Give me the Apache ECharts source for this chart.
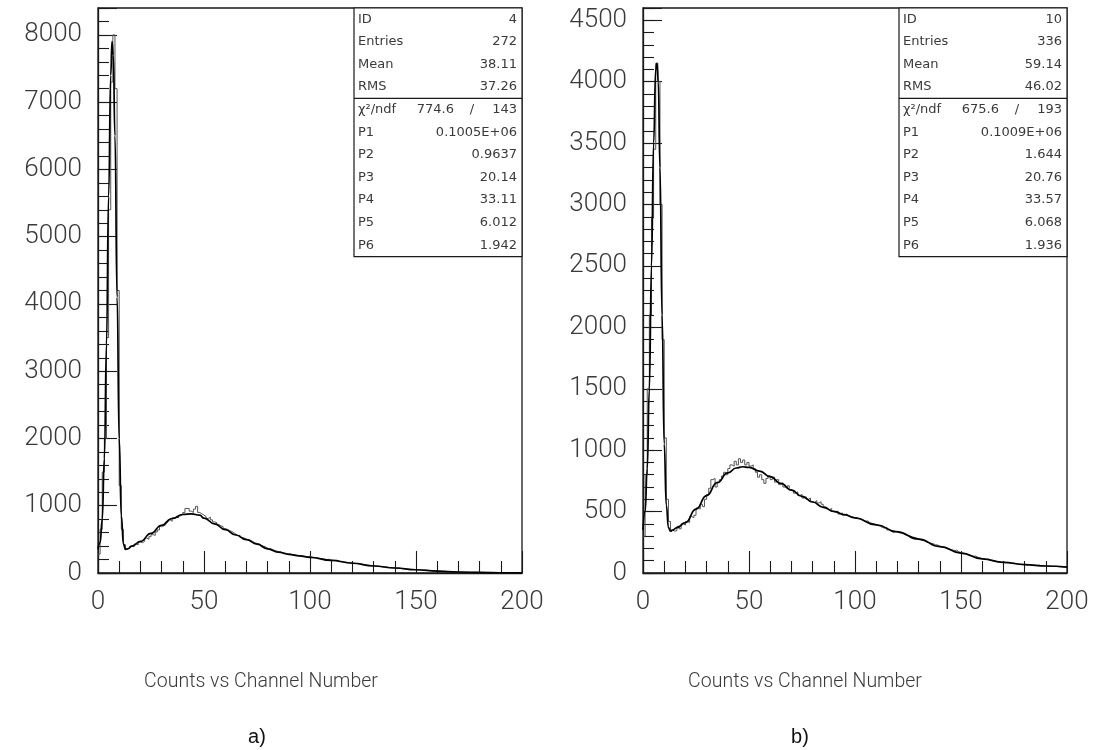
<!DOCTYPE html>
<html><head><meta charset="utf-8">
<script src="https://cdn.jsdelivr.net/npm/echarts@6/dist/echarts.min.js"></script>
<style>html,body{margin:0;padding:0;background:#fff}#c{width:1095px;height:750px}</style>
</head><body><div id="c"></div>
<script>
// ---------- data ----------
const histA = [
 280, 650, 1500, 2000, 3500, 5400, 7300, 8000, 7200, 4200, 1300, 650, 420, 360, 370,
 400, 390, 430, 420, 460, 450, 470, 520, 500, 540, 570, 560, 610, 640, 690, 700, 720, 760, 790, 770, 820, 830, 820, 850, 870, 900, 960, 960, 920, 900, 950, 990, 900, 880, 860, 840,
 810, 830, 790, 760, 750, 720, 700, 690, 660, 650, 630, 620, 600, 580, 555, 560, 530, 520, 505, 490, 485, 470, 450, 440, 430, 410, 400, 390, 370, 360, 355, 340, 330, 320, 312, 305, 300, 290, 285, 280, 272, 268, 262, 258, 255, 250, 245, 240, 250, 235,
 228, 225, 220, 215, 210, 205, 200, 205, 190, 188, 185, 178, 168, 170, 165, 162, 155, 158, 148, 145, 140, 135, 136, 128, 122, 118, 115, 110, 112, 104, 100, 96, 94, 90, 92, 84, 80, 78, 75, 74, 76, 68, 64, 62, 58, 56, 55, 52, 50, 48,
 46, 44, 42, 40, 38, 36, 34, 32, 30, 28, 27, 26, 24, 22, 21, 20, 18, 17, 16, 15, 14, 13, 12, 11, 11, 10, 10, 9, 9, 8, 8, 7, 7, 6, 6, 5, 5, 5, 4, 4, 4, 3, 3, 3, 3, 2, 2, 2, 2
];
const fitAX = [0, 1, 2, 3, 4, 5, 6, 6.6, 7.2, 8, 9, 10, 11, 12, 13, 14, 16, 20, 25, 30, 35, 40, 44, 48, 50, 55, 60, 65, 70, 75, 80, 85, 90, 95, 100, 110, 120, 130, 140, 150, 160, 170, 180, 190, 200];
const fitAY = [350, 450, 800, 1700, 3400, 5600, 7400, 7900, 7700, 6500, 4100, 2000, 850, 430, 350, 360, 400, 470, 590, 710, 810, 870, 880, 860, 815, 730, 645, 565, 495, 428, 360, 310, 278, 255, 233, 188, 145, 104, 74, 48, 28, 15, 8, 4, 2];

const histB = [
 300, 800, 1500, 2100, 2900, 3450, 4150, 4000, 3000, 1900, 1100, 600, 420, 350, 340,
 345, 380, 360, 400, 390, 420, 410, 460, 450, 470, 530, 520, 560, 540, 600, 640, 690, 760, 770, 700, 740, 760, 790, 820, 800, 850, 880, 870, 910, 880, 930, 900, 920, 880, 900, 870,
 880, 850, 820, 780, 800, 760, 730, 770, 790, 760, 780, 740, 760, 720, 735, 700, 690, 710, 680, 670, 650, 660, 630, 640, 610, 620, 600, 610, 580, 575, 590, 570, 580, 560, 540, 530, 515, 525, 500, 495, 505, 480, 490, 470, 480, 465, 455, 460, 445, 450,
 440, 435, 430, 420, 425, 410, 405, 400, 395, 390, 380, 370, 365, 372, 350, 340, 330, 335, 340, 330, 325, 320, 310, 305, 300, 295, 290, 285, 278, 272, 265, 262, 250, 248, 242, 238, 230, 228, 218, 214, 210, 204, 200, 192, 188, 182, 186, 172, 166, 162,
 158, 150, 148, 142, 136, 138, 128, 122, 118, 115, 110, 112, 104, 100, 96, 94, 92, 86, 88, 86, 84, 82, 80, 82, 76, 74, 72, 70, 69, 66, 67, 66, 64, 63, 62, 64, 60, 59, 58, 57, 56, 53, 54, 53, 52, 51, 50, 50, 49
];
const fitBX = [0, 1, 2, 3, 4, 5, 6, 6.6, 7.2, 8, 9, 10, 11, 12, 13, 14, 16, 20, 25, 30, 35, 40, 44, 47, 50, 55, 60, 65, 70, 75, 80, 85, 90, 95, 100, 110, 120, 130, 140, 150, 160, 170, 180, 190, 200];
const fitBY = [350, 500, 850, 1500, 2500, 3500, 4100, 4150, 4000, 3300, 2100, 1050, 550, 370, 340, 350, 370, 410, 520, 630, 735, 815, 855, 865, 860, 830, 785, 730, 675, 624, 578, 535, 502, 475, 448, 392, 335, 275, 215, 162, 115, 86, 68, 57, 48];

const statLabels = ['ID', 'Entries', 'Mean', 'RMS'];
const statValuesA = ['4', '272', '38.11', '37.26'];
const statValuesB = ['10', '336', '59.14', '46.02'];
const chiA = ['774.6', '143'];
const chiB = ['675.6', '193'];
const parLabels = ['P1', 'P2', 'P3', 'P4', 'P5', 'P6'];
const parValuesA = ['0.1005E+06', '0.9637', '20.14', '33.11', '6.012', '1.942'];
const parValuesB = ['0.1009E+06', '1.644', '20.76', '33.57', '6.068', '1.936'];

const xTitle = 'Counts vs Channel Number';
const panelNames = ['a)', 'b)'];
const yMaxA = 8400, yIntA = 1000, yMinorA = 200;
const yMaxB = 4600, yIntB = 500, yMinorB = 100;

// ---------- build ----------
const FONT = 'Roboto, "Liberation Sans", sans-serif';
const TXT = '#3a3a3a';
const LC = '#1a1a1a';
const G = [{left: 98, top: 8, width: 424, height: 565}, {left: 643, top: 8, width: 424, height: 565}];

function stepData(h) {
  const d = h.map((v, i) => [i, v]);
  d.push([h.length, h[h.length - 1]]);
  return d;
}
function xAxis(gi) {
  return {
    gridIndex: gi, type: 'value', min: 0, max: 200, interval: 50,
    axisLine: {show: true, onZero: false, lineStyle: {color: LC, width: 1.3}},
    axisTick: {show: true, inside: true, length: 22, lineStyle: {color: LC, width: 1.1}},
    minorTick: {show: true, splitNumber: 5, length: 12, lineStyle: {color: LC, width: 1.1}},
    splitLine: {show: false},
    axisLabel: {fontSize: 26, color: TXT, margin: 16, fontFamily: FONT, fontWeight: 300}
  };
}
function yAxisMajor(gi, max, iv) {
  return {
    gridIndex: gi, type: 'value', position: 'left', min: 0, max: max, interval: iv,
    axisLine: {show: true, onZero: false, lineStyle: {color: LC, width: 1.3}},
    axisTick: {show: true, inside: true, length: 19, lineStyle: {color: LC, width: 1.1}},
    splitLine: {show: false},
    axisLabel: {fontSize: 26, color: TXT, margin: 16, fontFamily: FONT, fontWeight: 300,
      formatter: v => (v % iv === 0 ? String(v) : '')}
  };
}
function yAxisMinor(gi, max, iv) {
  return {
    gridIndex: gi, type: 'value', position: 'left', offset: 0, min: 0, max: max, interval: iv,
    axisLine: {show: false},
    axisTick: {show: true, inside: true, length: 11, lineStyle: {color: LC, width: 1.1}},
    splitLine: {show: false},
    axisLabel: {show: false}
  };
}
function statBox(x0, y0, w, vals, chi, pars) {
  const rh = 22.6, els = [];
  const yTop = y0, ySep = y0 + rh * 4, yBot = ySep + rh * 7;
  els.push({type: 'rect', shape: {x: x0, y: yTop, width: w, height: yBot - yTop},
    style: {fill: '#fff', stroke: LC, lineWidth: 1.2}, z: 10});
  els.push({type: 'line', shape: {x1: x0, y1: ySep, x2: x0 + w, y2: ySep},
    style: {stroke: LC, lineWidth: 1.2}, z: 11});
  const ts = (t, x, y, align) => ({type: 'text', x: x, y: y, z: 12,
    style: {text: t, fill: '#3a3a3a', font: '13px "DejaVu Sans", sans-serif', textAlign: align, textVerticalAlign: 'middle'}});
  statLabels.forEach((l, i) => {
    const y = yTop + rh * (i + 0.5);
    els.push(ts(l, x0 + 4, y, 'left'));
    els.push(ts(vals[i], x0 + w - 5, y, 'right'));
  });
  const yc = ySep + rh * 0.5;
  els.push(ts('\u03c7\u00b2/ndf', x0 + 4, yc, 'left'));
  els.push(ts(chi[0], x0 + 100, yc, 'right'));
  els.push(ts('/', x0 + 118, yc, 'center'));
  els.push(ts(chi[1], x0 + w - 5, yc, 'right'));
  parLabels.forEach((l, i) => {
    const y = ySep + rh * (i + 1.5);
    els.push(ts(l, x0 + 4, y, 'left'));
    els.push(ts(pars[i], x0 + w - 5, y, 'right'));
  });
  return els;
}
const titleText = (t, x, y) => ({type: 'text', x: x, y: y,
  style: {text: t, fill: TXT, font: '300 19.5px ' + FONT, textAlign: 'center', textVerticalAlign: 'middle'}});
const panelText = (t, x, y) => ({type: 'text', x: x, y: y,
  style: {text: t, fill: '#111', font: '20px "Liberation Sans", sans-serif', textAlign: 'center', textVerticalAlign: 'middle'}});

const histStyle = {color: '#555', width: 1};
const fitStyle = {color: '#000', width: 1.7};
const option = {
  backgroundColor: '#fff',
  animation: false,
  grid: G.map(g => Object.assign({show: true, borderColor: LC, borderWidth: 1.3, backgroundColor: 'transparent'}, g)),
  xAxis: [xAxis(0), xAxis(1)],
  yAxis: [yAxisMajor(0, yMaxA, yIntA), yAxisMajor(1, yMaxB, yIntB), yAxisMinor(0, yMaxA, yMinorA), yAxisMinor(1, yMaxB, yMinorB)],
  series: [
    {type: 'line', xAxisIndex: 0, yAxisIndex: 0, step: 'end', showSymbol: false, data: stepData(histA), lineStyle: histStyle, z: 2},
    {type: 'line', xAxisIndex: 0, yAxisIndex: 0, smooth: true, smoothMonotone: 'x', showSymbol: false,
      data: fitAX.map((x, i) => [x, fitAY[i]]), lineStyle: fitStyle, z: 3},
    {type: 'line', xAxisIndex: 1, yAxisIndex: 1, step: 'end', showSymbol: false, data: stepData(histB), lineStyle: histStyle, z: 2},
    {type: 'line', xAxisIndex: 1, yAxisIndex: 1, smooth: true, smoothMonotone: 'x', showSymbol: false,
      data: fitBX.map((x, i) => [x, fitBY[i]]), lineStyle: fitStyle, z: 3}
  ],
  graphic: [
    ...statBox(354, 8, 168, statValuesA, chiA, parValuesA),
    ...statBox(899, 8, 168, statValuesB, chiB, parValuesB),
    titleText(xTitle, 261, 682),
    titleText(xTitle, 805, 682),
    panelText(panelNames[0], 257, 737),
    panelText(panelNames[1], 800, 737)
  ]
};
const chart = echarts.init(document.getElementById('c'), null, {renderer: 'canvas'});
chart.setOption(option);
</script>
</body></html>
